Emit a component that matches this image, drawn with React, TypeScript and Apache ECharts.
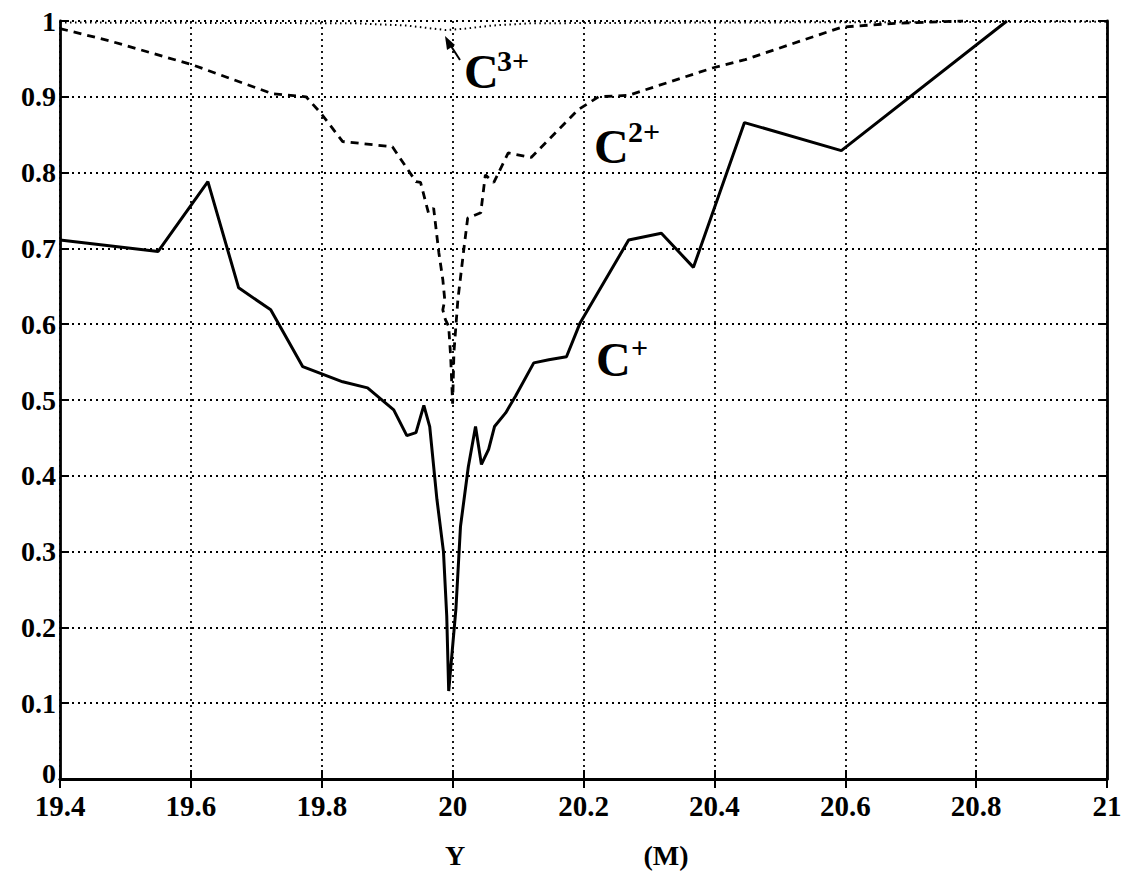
import React, { useEffect, useRef } from "react";
import * as echarts from "echarts";

// C+ (solid)
const cPlusX = [19.4, 19.55, 19.626, 19.673, 19.722, 19.771, 19.832, 19.87, 19.91, 19.93, 19.944, 19.956, 19.965, 19.976, 19.986, 19.991, 19.994, 20.005, 20.012, 20.024, 20.035, 20.044, 20.055, 20.064, 20.081, 20.096, 20.124, 20.147, 20.174, 20.195, 20.269, 20.319, 20.368, 20.446, 20.594, 20.847];
const cPlusY = [0.711, 0.696, 0.788, 0.648, 0.619, 0.544, 0.524, 0.516, 0.487, 0.453, 0.457, 0.493, 0.465, 0.369, 0.3, 0.215, 0.116, 0.224, 0.333, 0.412, 0.465, 0.415, 0.435, 0.465, 0.483, 0.505, 0.549, 0.553, 0.557, 0.602, 0.711, 0.72, 0.675, 0.866, 0.829, 1.0];

// C2+ (dashed)
const c2PlusX = [19.4, 19.475, 19.603, 19.725, 19.776, 19.798, 19.832, 19.908, 19.944, 19.951, 19.963, 19.971, 19.979, 19.985, 19.988, 19.985, 19.989, 19.994, 19.997, 20.0, 20.002, 20.008, 20.017, 20.023, 20.043, 20.05, 20.063, 20.085, 20.12, 20.192, 20.223, 20.269, 20.397, 20.447, 20.595, 20.676, 20.78];
const c2PlusY = [0.99, 0.974, 0.942, 0.904, 0.9, 0.879, 0.841, 0.834, 0.788, 0.787, 0.747, 0.753, 0.694, 0.659, 0.632, 0.619, 0.606, 0.597, 0.557, 0.495, 0.563, 0.632, 0.698, 0.74, 0.747, 0.797, 0.787, 0.826, 0.82, 0.883, 0.9, 0.902, 0.938, 0.949, 0.992, 0.997, 1.0];

// C3+ (dotted)
const c3PlusX = [19.4, 19.85, 19.93, 19.96, 19.99, 20.02, 20.06, 20.12, 20.4, 21];
const c3PlusY = [0.998, 0.997, 0.994, 0.991, 0.988, 0.99, 0.994, 0.997, 0.998, 0.999];

const xMin = 19.4;
const xMax = 21;
const xStep = 0.2;
const yMin = 0;
const yMax = 1;
const yStep = 0.1;

const FONT = "Liberation Serif";

const pairs = (xs: number[], ys: number[]) => xs.map((x, i) => [x, ys[i]]);

export default function App() {
  const ref = useRef<HTMLDivElement>(null);
  useEffect(() => {
    document.body.style.margin = "0";
    const chart = echarts.init(ref.current!, null, { renderer: "svg" });
    const tickStyle = { show: true, inside: true, length: 9, lineStyle: { color: "#000", width: 2 } };
    const axisLine = { show: true, lineStyle: { color: "#000", width: 2.8 } };
    const split = { show: true, lineStyle: { color: "#000", width: 1.8, type: [2, 4] as any } };
    const capStyle = { fill: "#000", fontFamily: FONT, fontWeight: "bold", fontSize: 48 };
    const supStyle = { fill: "#000", fontFamily: FONT, fontWeight: "bold", fontSize: 30 };
    const titleStyle = { fill: "#000", fontFamily: FONT, fontWeight: "bold", fontSize: 28, textAlign: "center", textVerticalAlign: "middle" };
    const yLabelFont = { color: "#000", fontFamily: FONT, fontWeight: "bold", fontSize: 28 };
    chart.setOption({
      animation: false,
      backgroundColor: "#fff",
      grid: { left: 60, right: 19, top: 21, bottom: 117 },
      xAxis: [
        {
          type: "value", min: xMin, max: xMax, interval: xStep, position: "bottom",
          axisLine, axisTick: tickStyle, splitLine: split,
          axisLabel: { color: "#000", fontFamily: FONT, fontWeight: "bold", fontSize: 29, margin: 12 },
        },
        {
          type: "value", min: xMin, max: xMax, interval: xStep, position: "top",
          axisLine, axisTick: tickStyle, splitLine: { show: false }, axisLabel: { show: false },
        },
      ],
      yAxis: [
        {
          type: "value", min: yMin, max: yMax, interval: yStep, position: "left",
          axisLine, axisTick: tickStyle, splitLine: split,
          axisLabel: {
            ...yLabelFont, margin: 4,
            formatter: (v: number) => {
              const s = String(Number(v.toFixed(1)));
              return v === 0 ? "{z|" + s + "}" : s;
            },
            rich: { z: { ...yLabelFont, padding: [0, 0, 12, 0] } },
          },
        },
        {
          type: "value", min: yMin, max: yMax, interval: yStep, position: "right",
          axisLine, axisTick: tickStyle, splitLine: { show: false }, axisLabel: { show: false },
        },
      ],
      series: [
        {
          name: "C+", type: "line", data: pairs(cPlusX, cPlusY), symbol: "none",
          lineStyle: { color: "#000", width: 3 },
        },
        {
          name: "C2+", type: "line", data: pairs(c2PlusX, c2PlusY), symbol: "none",
          lineStyle: { color: "#000", width: 2.8, type: [8, 6] },
        },
        {
          name: "C3+", type: "line", data: pairs(c3PlusX, c3PlusY), symbol: "none",
          lineStyle: { color: "#000", width: 2, type: [1.5, 3.5] },
        },
      ],
      graphic: [
        { type: "text", x: 464, y: 71, style: { ...capStyle, text: "C", textVerticalAlign: "middle" } },
        { type: "text", x: 497, y: 60, style: { ...supStyle, text: "3+", textVerticalAlign: "middle" } },
        { type: "text", x: 594, y: 146, style: { ...capStyle, text: "C", textVerticalAlign: "middle" } },
        { type: "text", x: 628, y: 131, style: { ...supStyle, text: "2+", textVerticalAlign: "middle" } },
        { type: "text", x: 596, y: 359, style: { ...capStyle, text: "C", textVerticalAlign: "middle" } },
        { type: "text", x: 631, y: 347, style: { ...supStyle, text: "+", textVerticalAlign: "middle" } },
        { type: "line", shape: { x1: 451, y1: 46, x2: 460, y2: 60 }, style: { stroke: "#000", lineWidth: 2 } },
        { type: "polygon", shape: { points: [[445, 36], [447, 50], [455, 45]] }, style: { fill: "#000" } },
        { type: "text", x: 455, y: 855, style: { ...titleStyle, text: "Y" } },
        { type: "text", x: 666, y: 855, style: { ...titleStyle, text: "(M)" } },
      ],
    });
    return () => chart.dispose();
  }, []);
  return <div ref={ref} style={{ width: 1126, height: 896 }} />;
}
